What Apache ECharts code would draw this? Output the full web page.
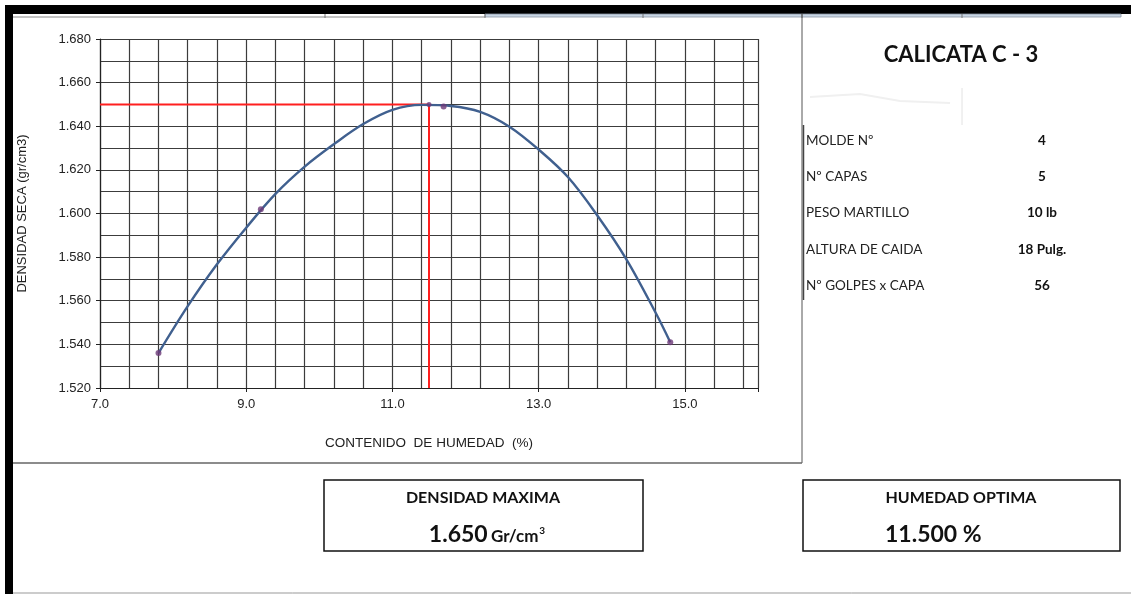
<!DOCTYPE html>
<html>
<head>
<meta charset="utf-8">
<script src="https://cdn.jsdelivr.net/npm/echarts@6/dist/echarts.min.js"></script>
<style>
html,body{margin:0;padding:0;background:#fff;}
#chart{width:1131px;height:594px;}
</style>
</head>
<body>
<div id="chart"></div>
<script>
// ---- data ----
const pointX = [7.8, 9.2, 11.7, 14.8];
const pointY = [1.536, 1.602, 1.649, 1.541];
const curveX = [7.8, 8.2, 8.6, 9.0, 9.4, 9.8, 10.2, 10.6, 11.0, 11.4, 11.8, 12.2, 12.6, 13.0, 13.4, 13.8, 14.2, 14.6, 14.8];
const curveY = [1.536, 1.5575, 1.5767, 1.5935, 1.609, 1.6215, 1.6318, 1.641, 1.6475, 1.6498, 1.6493, 1.6466, 1.6398, 1.6293, 1.6167, 1.5992, 1.579, 1.5545, 1.541];
const optimumHumidity = 11.5;
const maxDensity = 1.650;
const xMin = 7.0, xMax = 16.0, xMinorStep = 0.4, xMajorStep = 2.0;
const yMin = 1.52, yMax = 1.68, yMinorStep = 0.01, yMajorStep = 0.02;
const titleText = 'CALICATA C - 3';
const infoLabels = ['MOLDE Nº', 'Nº CAPAS', 'PESO MARTILLO', 'ALTURA DE CAIDA', 'Nº GOLPES x CAPA'];
const infoValues = ['4', '5', '10 lb', '18 Pulg.', '56'];
const xAxisName = 'CONTENIDO  DE HUMEDAD  (%)';
const yAxisName = 'DENSIDAD SECA (gr/cm3)';
const boxTitles = ['DENSIDAD MAXIMA', 'HUMEDAD OPTIMA'];
const densityUnit = 'Gr/cm';
const densityUnitSup = '3';

const chart = echarts.init(document.getElementById('chart'), null, {renderer: 'canvas'});

const curveData = curveX.map((x, i) => [x, curveY[i]]);
const pointData = pointX.map((x, i) => [x, pointY[i]]);
const refLineData = [[xMin, maxDensity], [optimumHumidity, maxDensity], [optimumHumidity, yMin]];

const calibri = 'Lato, "Open Sans", sans-serif';
const arial = '"Liberation Sans", Arial, sans-serif';

const graphics = [];
// frame
graphics.push({type:'rect', shape:{x:5, y:5, width:1126, height:9}, style:{fill:'#000'}, silent:true});
graphics.push({type:'rect', shape:{x:5, y:5, width:8, height:589}, style:{fill:'#000'}, silent:true});
// strip under top bar
graphics.push({type:'rect', shape:{x:485, y:14, width:636, height:3}, style:{fill:'#c9d6e4', stroke:'#8a96a3', lineWidth:0.8}, silent:true});
graphics.push({type:'line', shape:{x1:13, y1:17, x2:485, y2:17}, style:{stroke:'#888', lineWidth:1}, silent:true});
[325, 485, 643, 802, 962].forEach(x => {
  graphics.push({type:'line', shape:{x1:x, y1:14, x2:x, y2:18}, style:{stroke:'#777', lineWidth:1}, silent:true});
});
// chart panel borders
graphics.push({type:'line', shape:{x1:802, y1:14, x2:802, y2:463}, style:{stroke:'#555', lineWidth:1}, silent:true});
graphics.push({type:'line', shape:{x1:13, y1:463, x2:802, y2:463}, style:{stroke:'#666', lineWidth:1.5}, silent:true});
graphics.push({type:'line', shape:{x1:13, y1:593, x2:1131, y2:593}, style:{stroke:'#999', lineWidth:1}, silent:true});
// info panel line
graphics.push({type:'line', shape:{x1:803.5, y1:125, x2:803.5, y2:300}, style:{stroke:'#444', lineWidth:1.5}, silent:true});
// faint marks
graphics.push({type:'line', shape:{x1:962, y1:88, x2:962, y2:125}, style:{stroke:'#e2e2e2', lineWidth:1}, silent:true});
graphics.push({type:'polyline', shape:{points:[[810,97],[860,94],[900,101],[950,103]]}, style:{stroke:'#f0f0f0', lineWidth:2, fill:null}, silent:true});
// title
graphics.push({type:'text', style:{text:titleText, x:961, y:55, align:'center', verticalAlign:'middle', font:'bold 22px ' + calibri, fill:'#111'}, silent:true});
// info rows
const rowY = [141, 177, 213, 250, 286];
infoLabels.forEach((t, i) => {
  graphics.push({type:'text', style:{text:t, x:806, y:rowY[i], align:'left', verticalAlign:'middle', font:'13.5px ' + calibri, fill:'#222'}, silent:true});
  graphics.push({type:'text', style:{text:infoValues[i], x:1042, y:rowY[i], align:'center', verticalAlign:'middle', font:'bold 13.5px ' + calibri, fill:'#111'}, silent:true});
});
// bottom boxes
graphics.push({type:'rect', shape:{x:324, y:480, width:319, height:71}, style:{fill:'#fff', stroke:'#111', lineWidth:1.5}, silent:true});
graphics.push({type:'rect', shape:{x:803, y:480, width:317, height:71}, style:{fill:'#fff', stroke:'#111', lineWidth:1.5}, silent:true});
graphics.push({type:'text', style:{text:boxTitles[0], x:483, y:498, align:'center', verticalAlign:'middle', font:'bold 16px ' + calibri, fill:'#111'}, silent:true});
graphics.push({type:'text', style:{text:boxTitles[1], x:961, y:498, align:'center', verticalAlign:'middle', font:'bold 16px ' + calibri, fill:'#111'}, silent:true});
graphics.push({type:'text', style:{
  text:'{a|' + maxDensity.toFixed(3) + '} {b|' + densityUnit + '}{c|' + densityUnitSup + '}', x:487, y:535, align:'center', verticalAlign:'middle',
  rich:{
    a:{font:'bold 23px ' + calibri, fill:'#111'},
    b:{font:'bold 17px ' + calibri, fill:'#111', padding:[3,0,0,0]},
    c:{font:'bold 10px ' + calibri, fill:'#111', padding:[0,0,9,1]}
  }
}, silent:true});
graphics.push({type:'text', style:{text:optimumHumidity.toFixed(3) + ' %', x:885, y:535, align:'left', verticalAlign:'middle', font:'bold 23px ' + calibri, fill:'#111'}, silent:true});

const option = {
  animation: false,
  backgroundColor: '#fff',
  grid: {left:100, right:373, top:39, bottom:206, show:false},
  xAxis: [
    {type:'value', min:xMin, max:xMax, interval:xMinorStep, position:'bottom',
     axisLine:{show:true, onZero:false, lineStyle:{color:'#222', width:1.2}},
     axisTick:{show:false}, axisLabel:{show:false},
     splitLine:{show:true, lineStyle:{color:'#3c3c3c', width:1.2}}},
    {type:'value', min:xMin, max:xMax, interval:xMajorStep, position:'bottom',
     axisLine:{show:false, onZero:false},
     axisTick:{show:true, length:4, lineStyle:{color:'#222'}},
     axisLabel:{show:true, margin:10, fontFamily:arial, fontSize:13, color:'#222',
       formatter: v => (Math.abs(v - xMax) < 1e-9 ? '' : v.toFixed(1))},
     splitLine:{show:false},
     name:xAxisName, nameLocation:'middle', nameGap:48,
     nameTextStyle:{fontFamily:arial, fontSize:13.5, color:'#222'}}
  ],
  yAxis: [
    {type:'value', min:yMin, max:yMax, interval:yMinorStep, position:'left',
     axisLine:{show:true, onZero:false, lineStyle:{color:'#222', width:1.2}},
     axisTick:{show:false}, axisLabel:{show:false},
     splitLine:{show:true, lineStyle:{color:'#3c3c3c', width:1.2}}},
    {type:'value', min:yMin, max:yMax, interval:yMajorStep, position:'left',
     axisLine:{show:false, onZero:false},
     axisTick:{show:true, length:4, lineStyle:{color:'#222'}},
     axisLabel:{show:true, margin:9, fontFamily:arial, fontSize:13, color:'#222',
       formatter: v => v.toFixed(3)},
     splitLine:{show:false},
     name:yAxisName, nameLocation:'middle', nameGap:71, nameRotate:90,
     nameTextStyle:{fontFamily:arial, fontSize:13, color:'#222'}}
  ],
  series: [
    {type:'line', name:'ref', xAxisIndex:0, yAxisIndex:0, data:refLineData, showSymbol:false, symbol:'none',
     lineStyle:{color:'#ff1f1f', width:2}, z:3, silent:true},
    {type:'line', name:'curva', xAxisIndex:0, yAxisIndex:0, data:curveData, smooth:0.35, showSymbol:false, symbol:'none',
     lineStyle:{color:'#40608f', width:2.4}, z:4, silent:true},
    {type:'scatter', name:'puntos', xAxisIndex:0, yAxisIndex:0, data:pointData, symbolSize:6,
     itemStyle:{color:'#6d3a78'}, z:5, silent:true},
    {type:'scatter', name:'optimo', xAxisIndex:0, yAxisIndex:0, data:[[optimumHumidity, maxDensity]], symbolSize:5,
     itemStyle:{color:'#6d3a78'}, z:5, silent:true}
  ],
  graphic: {elements: graphics}
};
chart.setOption(option);
</script>
</body>
</html>
